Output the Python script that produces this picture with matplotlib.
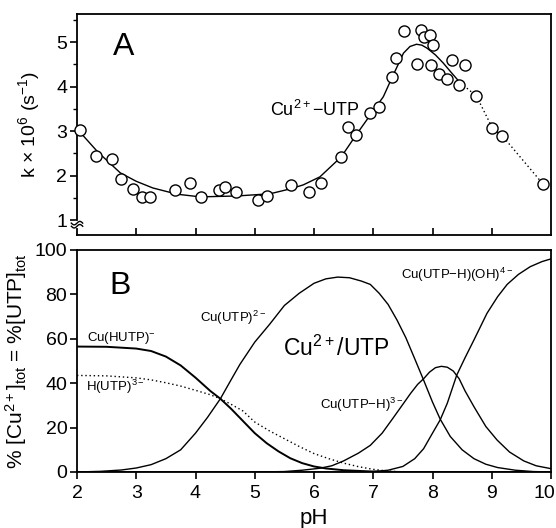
import numpy as np
import matplotlib
matplotlib.use("Agg")
import matplotlib.pyplot as plt
from matplotlib.transforms import ScaledTranslation

# ---------------- data ----------------
# Panel A: measured rate constants (k x 10^6, s^-1) vs pH
pts_ph = [2.05, 2.32, 2.59, 2.74, 2.94, 3.09, 3.24, 3.65, 3.91, 4.09, 4.39, 4.49, 4.69,
          5.06, 5.20, 5.61, 5.92, 6.12, 6.46, 6.58, 6.71, 6.95, 7.10, 7.32, 7.39, 7.52,
          7.73, 7.81, 7.86, 7.95, 8.01, 7.98, 8.11, 8.25, 8.33, 8.55, 8.45, 8.74, 9.01,
          9.18, 9.87]
pts_k = [3.02, 2.44, 2.37, 1.92, 1.70, 1.52, 1.52, 1.68, 1.83, 1.52, 1.67, 1.74, 1.62,
         1.45, 1.53, 1.79, 1.63, 1.83, 2.42, 3.09, 2.91, 3.40, 3.54, 4.21, 4.64, 5.25,
         4.50, 5.27, 5.11, 5.16, 4.93, 4.48, 4.28, 4.17, 4.60, 4.48, 4.03, 3.79, 3.07,
         2.89, 1.80]

# Panel A: fitted curve (solid) and continuation (dotted)
fit_ph = [2.0, 2.35, 2.73, 3.0, 3.28, 3.69, 4.08, 4.7, 5.26, 5.6, 5.82, 6.10, 6.46,
          6.71, 6.95, 7.17, 7.32, 7.51, 7.62, 7.73, 7.82, 7.91, 8.05, 8.18, 8.32, 8.47]
fit_k = [3.05, 2.53, 2.06, 1.87, 1.72, 1.58, 1.52, 1.54, 1.59, 1.70, 1.79, 1.97, 2.42,
         2.91, 3.36, 3.77, 4.21, 4.75, 4.90, 4.95, 4.93, 4.86, 4.71, 4.53, 4.31, 4.08]
dot_ph = [8.47, 8.74, 9.01, 9.18, 9.87]
dot_k = [4.08, 3.79, 3.07, 2.89, 1.80]

# Panel B: species distribution (% of Cu2+ total = % of UTP total)
hutp_ph = [2.0, 2.5, 3.0, 3.25, 3.5, 3.75, 4.0, 4.25, 4.42, 4.6, 4.8, 5.0, 5.2, 5.4,
           5.6, 5.8, 6.0, 6.2, 6.5, 7.0, 7.5, 10.0]
hutp_pct = [56.5, 56.4, 55.6, 54.5, 52.0, 48.0, 42.5, 36.5, 33.0, 28.5, 23.0, 17.5,
            13.0, 9.3, 6.2, 4.0, 2.5, 1.6, 0.8, 0.2, 0.0, 0.0]

hl_ph = [2.0, 2.5, 3.0, 3.25, 3.5, 3.75, 4.0, 4.25, 4.42, 4.6, 4.8, 5.0, 5.25, 5.5,
         5.75, 6.0, 6.25, 6.5, 6.75, 7.0, 7.25, 7.5, 10.0]
hl_pct = [43.5, 43.3, 42.4, 41.5, 40.2, 38.7, 36.8, 34.8, 33.0, 30.5, 27.5, 22.5, 18.5,
          15.0, 11.5, 8.3, 6.0, 4.0, 2.4, 1.2, 0.4, 0.0, 0.0]

cul_ph = [2.0, 2.4, 2.75, 3.0, 3.25, 3.5, 3.75, 4.0, 4.2, 4.42, 4.6, 4.75, 5.0, 5.25,
          5.5, 5.75, 6.0, 6.2, 6.4, 6.6, 6.8, 6.95, 7.1, 7.25, 7.4, 7.55, 7.7, 7.85,
          8.0, 8.13, 8.3, 8.5, 8.7, 8.9, 9.1, 9.4, 9.7, 10.0]
cul_pct = [0.0, 0.3, 0.9, 1.8, 3.3, 6.0, 10.0, 17.5, 24.5, 33.0, 41.5, 48.5, 58.5, 66.5,
           75.0, 80.5, 85.0, 87.0, 87.8, 87.5, 86.0, 84.5, 80.5, 75.5, 68.5, 60.5, 51.0,
           41.4, 31.5, 23.8, 16.0, 10.0, 6.0, 3.5, 2.0, 0.8, 0.2, 0.0]

culh_ph = [2.0, 5.0, 5.5, 5.8, 6.1, 6.3, 6.5, 6.75, 6.95, 7.15, 7.34, 7.5, 7.63, 7.75,
           7.85, 7.95, 8.05, 8.15, 8.25, 8.35, 8.45, 8.55, 8.7, 8.9, 9.09, 9.3, 9.54,
           9.75, 10.0]
culh_pct = [0.0, 0.0, 0.2, 0.8, 1.7, 2.8, 5.0, 8.5, 12.0, 17.5, 24.5, 30.5, 35.4, 39.5,
            42.0, 45.0, 47.0, 47.6, 47.2, 45.5, 42.0, 36.5, 29.4, 20.5, 14.4, 9.0, 5.0,
            2.8, 1.5]

cuoh_ph = [2.0, 6.8, 7.0, 7.25, 7.5, 7.7, 7.85, 8.0, 8.13, 8.25, 8.41, 8.55, 8.7, 8.92,
           9.1, 9.26, 9.45, 9.65, 9.85, 10.0]
cuoh_pct = [0.0, 0.0, 0.2, 0.8, 2.5, 6.0, 10.5, 17.5, 23.5, 31.0, 43.7, 51.5, 59.5,
            71.5, 79.0, 84.5, 89.0, 92.5, 94.8, 96.0]

x_ticks = [2, 3, 4, 5, 6, 7, 8, 9, 10]
a_yticks = [1, 2, 3, 4, 5]
b_yticks = [0, 20, 40, 60, 80, 100]

# ---------------- fonts ----------------
font = "Liberation Sans"
plt.rcParams["font.family"] = [font, "DejaVu Sans"]
plt.rcParams["mathtext.fontset"] = "custom"
plt.rcParams["mathtext.rm"] = font
plt.rcParams["mathtext.it"] = font
plt.rcParams["mathtext.default"] = "regular"

lw = 1.0
fig = plt.figure(figsize=(5.56, 5.28), dpi=100)
L, W = 77 / 556, 474 / 556
axA = fig.add_axes([L, 1 - 235 / 528, W, 221 / 528])
axB = fig.add_axes([L, 1 - 472 / 528, W, 222 / 528])

# ---------- Panel A ----------
axA.plot(fit_ph, fit_k, color="black", lw=lw)
axA.plot(dot_ph, dot_k, color="black", lw=lw, ls=(0, (1, 2)))
axA.plot(pts_ph, pts_k, ls="none", marker="o", ms=8, mfc="white", mec="black", mew=1.0,
         clip_on=False, zorder=3)
axA.set_xlim(2, 10)
axA.set_ylim(0.663, 5.63)
axA.set_yticks(a_yticks)
axA.set_yticks([1.5, 2.5, 3.5, 4.5, 5.5], minor=True)
axA.set_xticks(x_ticks[1:-1])
axA.tick_params(axis="x", direction="in", length=5, width=1.2, labelbottom=False)
axA.tick_params(axis="y", which="major", direction="out", length=5, width=1.2, labelsize=14, pad=2)
axA.tick_params(axis="y", which="minor", direction="out", length=3, width=1.0)
for s in axA.spines.values():
    s.set_linewidth(1.3)
axA.set_ylabel(r"k $\times$ 10$^{6}$ (s$^{-1}$)", fontsize=14, labelpad=10)
axA.text(2.6, 4.88, "A", fontsize=23, va="center", ha="left")
axA.text(6.78, 3.47, r"Cu$^{2+}$$-$UTP", fontsize=13, va="center", ha="right")

# axis break on left spine of panel A
yb0 = (0.86 - 0.663) / (5.63 - 0.663)
yb1 = (0.93 - 0.663) / (5.63 - 0.663)
axA.plot([0, 0], [yb0, yb1], transform=axA.transAxes, color="white", lw=3, clip_on=False, zorder=5)
tt = np.linspace(-1, 1, 15)
for yb in (yb0, yb1):
    axA.plot(tt * 0.012, yb + 0.008 * np.sin(tt * np.pi), transform=axA.transAxes,
             color="black", lw=1.0, clip_on=False, zorder=6)

# ---------- Panel B ----------
axB.plot(hutp_ph, hutp_pct, color="black", lw=1.4)
axB.plot(hl_ph, hl_pct, color="black", lw=lw, ls=(0, (1, 2)))
axB.plot(cul_ph, cul_pct, color="black", lw=lw)
axB.plot(culh_ph, culh_pct, color="black", lw=lw)
axB.plot(cuoh_ph, cuoh_pct, color="black", lw=lw)
axB.set_xlim(2, 10)
axB.set_ylim(0, 100)
axB.set_xticks(x_ticks)
axB.set_yticks(b_yticks)
axB.tick_params(axis="x", direction="out", length=5, width=1.2, labelsize=14, pad=4)
axB.tick_params(axis="y", direction="out", length=5, width=1.2, labelsize=14, pad=2)
for s in axB.spines.values():
    s.set_linewidth(1.3)
# keep the last x tick label ("10") inside the figure
last = axB.get_xticklabels()[-1]
last.set_transform(last.get_transform() + ScaledTranslation(-7 / 100, 0, fig.dpi_scale_trans))
axB.set_xlabel("pH", fontsize=16, labelpad=5)
axB.set_ylabel(r"% [Cu$^{2+}$]$_{tot}$ = %[UTP]$_{tot}$", fontsize=15, labelpad=4)
axB.text(2.55, 84, "B", fontsize=23, va="center", ha="left")
sp = 9.5
axB.text(2.17, 60.4, r"Cu(HUTP)$^{-}$", fontsize=sp, va="center", ha="left")
axB.text(2.15, 38.3, r"H(UTP)$^{3-}$", fontsize=sp, va="center", ha="left")
axB.text(4.08, 69.4, r"Cu(UTP)$^{2-}$", fontsize=sp, va="center", ha="left")
axB.text(5.48, 55.8, r"Cu$^{2+}$/UTP", fontsize=16.5, va="center", ha="left")
axB.text(6.1, 30.2, r"Cu(UTP$-$H)$^{3-}$", fontsize=sp, va="center", ha="left")
axB.text(7.46, 88.7, r"Cu(UTP$-$H)(OH)$^{4-}$", fontsize=sp, va="center", ha="left")

fig.savefig("out.png", dpi=100)
